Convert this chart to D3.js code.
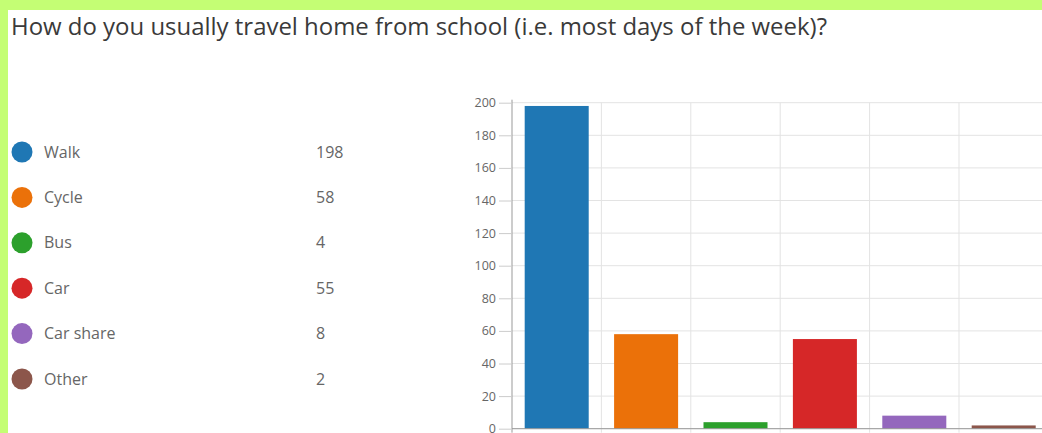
<!DOCTYPE html>
<html>
<head>
<meta charset="utf-8">
<script src="https://cdn.jsdelivr.net/npm/d3@7"></script>
<style>
  body { margin: 0; overflow: hidden; }
  text { font-family: "Open Sans", sans-serif; }
</style>
</head>
<body>
<div id="chart"></div>
<script>
// data
const categories = ['Walk', 'Cycle', 'Bus', 'Car', 'Car share', 'Other'];
const counts = [198, 58, 4, 55, 8, 2];
const colors = ['#1f77b4', '#eb7109', '#2ca02c', '#d62728', '#9467bd', '#8c564b'];
const yTicks = [0, 20, 40, 60, 80, 100, 120, 140, 160, 180, 200];

const title = 'How do you usually travel home from school (i.e. most days of the week)?';

const totalWidth = 1042;
const totalHeight = 433;

const svg = d3.select('#chart')
  .append('svg')
  .attr('width', totalWidth)
  .attr('height', totalHeight);

// green frame + white card
svg.append('rect')
  .attr('width', totalWidth)
  .attr('height', totalHeight)
  .attr('fill', '#c4fe74');
svg.append('rect')
  .attr('x', 8)
  .attr('y', 10)
  .attr('width', totalWidth - 8)
  .attr('height', totalHeight - 10)
  .attr('fill', '#ffffff');

const titleText = svg.append('text')
  .attr('x', 11)
  .attr('y', 35)
  .attr('font-size', 24)
  .attr('fill', '#3a3a3a')
  .text(title);
// stretch to the width seen in the picture
titleText.attr('textLength', 816).attr('lengthAdjust', 'spacingAndGlyphs');

// legend on the left
const legend = svg.append('g');
const legendY = d3.scalePoint()
  .domain(categories)
  .range([152, 379]);

const rows = legend.selectAll('g')
  .data(categories)
  .enter()
  .append('g')
  .attr('transform', d => `translate(0, ${legendY(d)})`);

rows.append('circle')
  .attr('cx', 22)
  .attr('r', 10.5)
  .attr('fill', (d, i) => colors[i]);

rows.append('text')
  .attr('x', 44)
  .attr('dy', '0.35em')
  .attr('font-size', 16)
  .attr('fill', '#666')
  .text(d => d);

rows.append('text')
  .attr('x', 316)
  .attr('dy', '0.35em')
  .attr('font-size', 16)
  .attr('fill', '#666')
  .text((d, i) => counts[i]);

// bar chart
const margin = { left: 512, top: 102.7 };
const step = 89.4;
const graphWidth = step * categories.length;
const graphHeight = 428.7 - margin.top;

const graph = svg.append('g')
  .attr('transform', `translate(${margin.left}, ${margin.top})`);

const y = d3.scaleLinear()
  .domain([0, 200])
  .range([graphHeight, 0]);

const xGrid = d3.scaleBand()
  .domain(categories)
  .range([0, graphWidth]);

const x = d3.scaleBand()
  .domain(categories)
  .range([0, graphWidth])
  .paddingInner(0.284)
  .paddingOuter(0.142);

// horizontal grid
graph.append('g')
  .selectAll('line')
  .data(yTicks)
  .enter()
  .append('line')
  .attr('x1', 0)
  .attr('x2', graphWidth)
  .attr('y1', d => y(d))
  .attr('y2', d => y(d))
  .attr('stroke', '#e3e3e3');

// vertical grid
graph.append('g')
  .selectAll('line')
  .data(categories.slice(1))
  .enter()
  .append('line')
  .attr('x1', d => xGrid(d))
  .attr('x2', d => xGrid(d))
  .attr('y1', 0)
  .attr('y2', graphHeight + 4)
  .attr('stroke', '#e3e3e3');

graph.selectAll('rect.bar')
  .data(counts)
  .enter()
  .append('rect')
  .attr('class', 'bar')
  .attr('x', (d, i) => x(categories[i]))
  .attr('width', x.bandwidth())
  .attr('y', d => y(d))
  .attr('height', d => graphHeight - y(d))
  .attr('fill', (d, i) => colors[i]);

const yAxis = d3.axisLeft(y)
  .tickValues(yTicks)
  .tickSizeInner(13)
  .tickSizeOuter(0)
  .tickPadding(3);

const yAxisGroup = graph.append('g').call(yAxis);
yAxisGroup.select('.domain')
  .attr('stroke', '#999')
  .attr('d', `M0,-3V${graphHeight + 4}`);
yAxisGroup.selectAll('.tick line').attr('stroke', '#ccc');
yAxisGroup.selectAll('.tick text')
  .attr('fill', '#666')
  .attr('font-size', 12.5)
  .attr('font-family', '"Open Sans", sans-serif');

// baseline
graph.append('line')
  .attr('x1', 0)
  .attr('x2', graphWidth)
  .attr('y1', graphHeight)
  .attr('y2', graphHeight)
  .attr('stroke', '#999');
</script>
</body>
</html>
